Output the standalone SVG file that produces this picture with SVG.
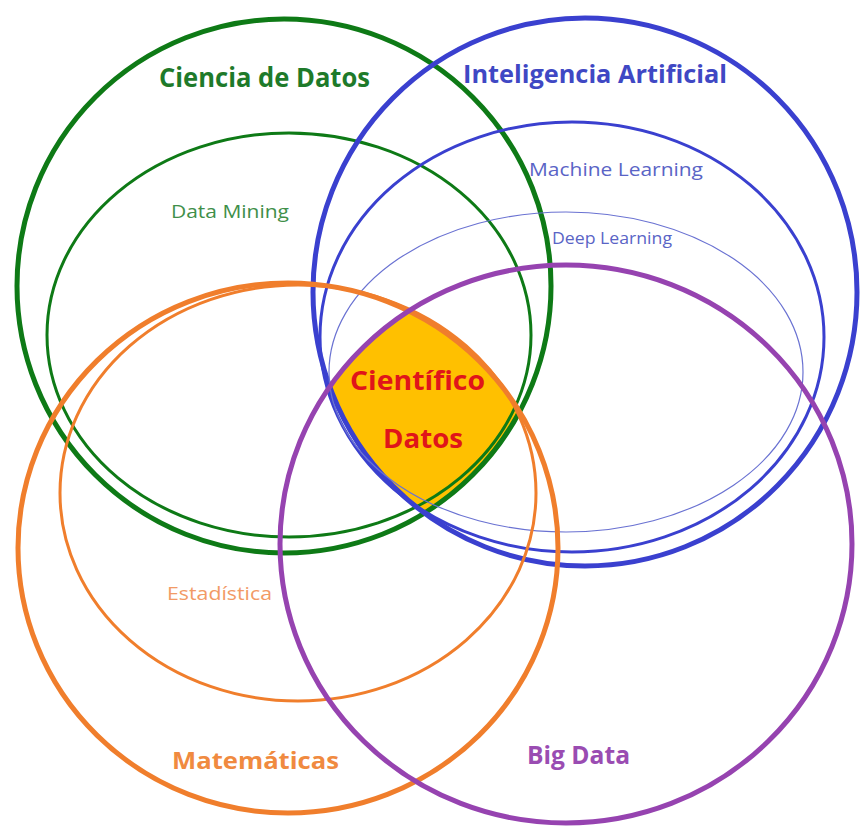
<svg xmlns="http://www.w3.org/2000/svg" width="862" height="828" viewBox="0 0 862 828">
<style>
  .ring { fill: none; }
  .big { stroke-width: 5; }
  .mid { stroke-width: 3; }
  .thin { stroke-width: 1.2; }
  .green { stroke: #0e7a16; }
  .blue { stroke: #3a40cf; }
  .lightblue { stroke: #6a72d2; }
  .orange { stroke: #f07e2c; }
  .purple { stroke: #9643b0; }
  text { font-family: "Open Sans", "Noto Sans", "Liberation Sans", sans-serif; text-anchor: middle; }
  .b { font-weight: 700; }
</style>
<defs>
  <clipPath id="cg"><circle cx="284" cy="286" r="267"/></clipPath>
  <clipPath id="cb"><ellipse cx="585" cy="292" rx="272" ry="274"/></clipPath>
  <clipPath id="co"><ellipse cx="288" cy="548" rx="270" ry="265"/></clipPath>
  <clipPath id="cp"><ellipse cx="566" cy="544" rx="286" ry="279"/></clipPath>
</defs>
<rect width="862" height="828" fill="#ffffff"/>
<g id="core-fill" clip-path="url(#cg)">
  <g clip-path="url(#cb)">
    <g clip-path="url(#co)">
      <rect x="0" y="0" width="862" height="828" fill="#ffc000" clip-path="url(#cp)"/>
    </g>
  </g>
</g>
<g id="ciencia-de-datos">
  <circle class="ring big green" cx="284" cy="286" r="267"/>
  <text class="b" x="264.5" y="87" font-size="26" fill="#1e7a2a" textLength="211" lengthAdjust="spacingAndGlyphs">Ciencia de Datos</text>
</g>
<g id="data-mining">
  <ellipse class="ring mid green" cx="289" cy="335" rx="242" ry="202"/>
  <text x="230" y="218" font-size="18" fill="#3f8f4a" textLength="118" lengthAdjust="spacingAndGlyphs">Data Mining</text>
</g>
<g id="inteligencia-artificial">
  <ellipse class="ring big blue" cx="585" cy="292" rx="272" ry="274"/>
  <text class="b" x="595" y="83" font-size="25" fill="#3f48c4" textLength="264" lengthAdjust="spacingAndGlyphs">Inteligencia Artificial</text>
</g>
<g id="machine-learning">
  <ellipse class="ring mid blue" cx="572" cy="337" rx="252" ry="215"/>
  <text x="616" y="176" font-size="19" fill="#5a64c6" textLength="174" lengthAdjust="spacingAndGlyphs">Machine Learning</text>
</g>
<g id="deep-learning">
  <ellipse class="ring thin lightblue" cx="566" cy="372" rx="237" ry="160"/>
  <text x="612" y="244" font-size="16" fill="#5a64c6" textLength="120" lengthAdjust="spacingAndGlyphs">Deep Learning</text>
</g>
<g id="matematicas">
  <ellipse class="ring big orange" cx="288" cy="548" rx="270" ry="265"/>
  <text class="b" x="255.5" y="769" font-size="24" fill="#f08a40" textLength="167" lengthAdjust="spacingAndGlyphs">Matemáticas</text>
</g>
<g id="estadistica">
  <ellipse class="ring mid orange" cx="298" cy="493" rx="238" ry="208" stroke-width="2.5"/>
  <text x="219.5" y="600" font-size="18" fill="#f29a66" textLength="105" lengthAdjust="spacingAndGlyphs">Estadística</text>
</g>
<g id="big-data">
  <ellipse class="ring big purple" cx="566" cy="544" rx="286" ry="279"/>
  <text class="b" x="578.5" y="764" font-size="25" fill="#9a4cb2" textLength="103" lengthAdjust="spacingAndGlyphs">Big Data</text>
</g>
<g id="cientifico-datos">
  <text class="b" x="417.5" y="390" font-size="27" fill="#e0151a" textLength="135" lengthAdjust="spacingAndGlyphs">Científico</text>
  <text class="b" x="423" y="448" font-size="27" fill="#e0151a" textLength="80" lengthAdjust="spacingAndGlyphs">Datos</text>
</g>
<g id="connectors"></g>
</svg>
